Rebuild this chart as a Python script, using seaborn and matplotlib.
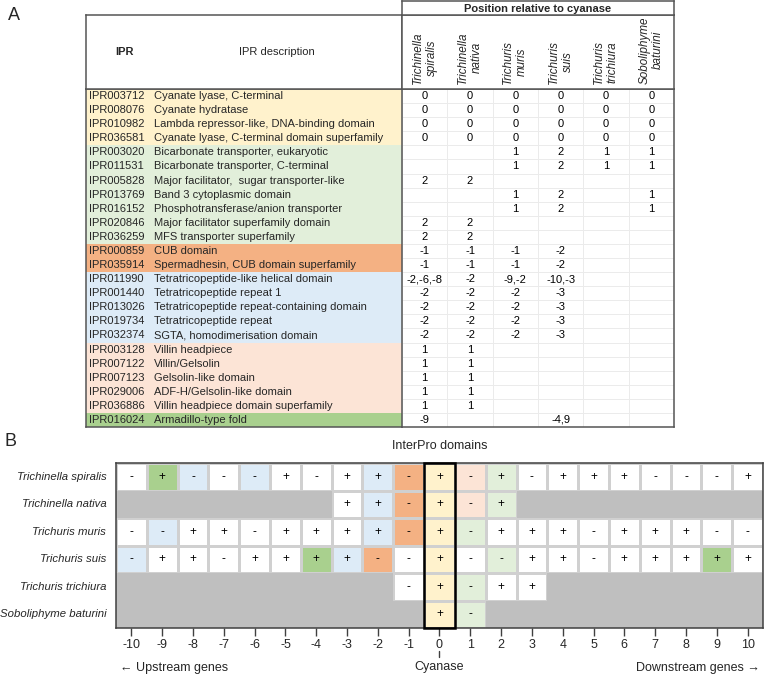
"""
Cyanase genomic neighbourhood: InterPro domain table (A) and
gene-order grid relative to cyanase (B)
"""
import numpy as np
import matplotlib
matplotlib.use("Agg")
import matplotlib.pyplot as plt
from matplotlib.colors import ListedColormap
from matplotlib.patches import Rectangle
import seaborn as sns

sns.set_style("white")
plt.rcParams["font.family"] = ["Liberation Sans", "DejaVu Sans"]

W, H = 765, 675

# ---------------- data: panel A ----------------
ipr_ids = [
    "IPR003712", "IPR008076", "IPR010982", "IPR036581",
    "IPR003020", "IPR011531", "IPR005828", "IPR013769",
    "IPR016152", "IPR020846", "IPR036259", "IPR000859",
    "IPR035914", "IPR011990", "IPR001440", "IPR013026",
    "IPR019734", "IPR032374", "IPR003128", "IPR007122",
    "IPR007123", "IPR029006", "IPR036886", "IPR016024",
]
ipr_desc = [
    "Cyanate lyase, C-terminal",
    "Cyanate hydratase",
    "Lambda repressor-like, DNA-binding domain",
    "Cyanate lyase, C-terminal domain superfamily",
    "Bicarbonate transporter, eukaryotic",
    "Bicarbonate transporter, C-terminal",
    "Major facilitator,  sugar transporter-like",
    "Band 3 cytoplasmic domain",
    "Phosphotransferase/anion transporter",
    "Major facilitator superfamily domain",
    "MFS transporter superfamily",
    "CUB domain",
    "Spermadhesin, CUB domain superfamily",
    "Tetratricopeptide-like helical domain",
    "Tetratricopeptide repeat 1",
    "Tetratricopeptide repeat-containing domain",
    "Tetratricopeptide repeat",
    "SGTA, homodimerisation domain",
    "Villin headpiece",
    "Villin/Gelsolin",
    "Gelsolin-like domain",
    "ADF-H/Gelsolin-like domain",
    "Villin headpiece domain superfamily",
    "Armadillo-type fold",
]
ipr_group = [
    "cyanate", "cyanate", "cyanate", "cyanate",
    "transport", "transport", "transport", "transport",
    "transport", "transport", "transport", "cub",
    "cub", "tpr", "tpr", "tpr",
    "tpr", "tpr", "villin", "villin",
    "villin", "villin", "villin", "armadillo",
]
table_species = [
    "Trichinella\nspiralis", "Trichinella\nnativa", "Trichuris\nmuris",
    "Trichuris\nsuis", "Trichuris\ntrichiura", "Soboliphyme\nbaturini",
]
table_positions = [
    ["0", "0", "0", "0", "0", "0"],
    ["0", "0", "0", "0", "0", "0"],
    ["0", "0", "0", "0", "0", "0"],
    ["0", "0", "0", "0", "0", "0"],
    ["", "", "1", "2", "1", "1"],
    ["", "", "1", "2", "1", "1"],
    ["2", "2", "", "", "", ""],
    ["", "", "1", "2", "", "1"],
    ["", "", "1", "2", "", "1"],
    ["2", "2", "", "", "", ""],
    ["2", "2", "", "", "", ""],
    ["-1", "-1", "-1", "-2", "", ""],
    ["-1", "-1", "-1", "-2", "", ""],
    ["-2,-6,-8", "-2", "-9,-2", "-10,-3", "", ""],
    ["-2", "-2", "-2", "-3", "", ""],
    ["-2", "-2", "-2", "-3", "", ""],
    ["-2", "-2", "-2", "-3", "", ""],
    ["-2", "-2", "-2", "-3", "", ""],
    ["1", "1", "", "", "", ""],
    ["1", "1", "", "", "", ""],
    ["1", "1", "", "", "", ""],
    ["1", "1", "", "", "", ""],
    ["1", "1", "", "", "", ""],
    ["-9", "", "", "-4,9", "", ""],
]

# ---------------- data: panel B ----------------
positions = [-10, -9, -8, -7, -6, -5, -4, -3, -2, -1, 0,
             1, 2, 3, 4, 5, 6, 7, 8, 9, 10]
grid_species = [
    "Trichinella spiralis", "Trichinella nativa", "Trichuris muris",
    "Trichuris suis", "Trichuris trichiura", "Soboliphyme baturini",
]
# strand of each neighbouring gene ('.' = no gene / outside contig)
strand_spiralis = "-+---+-++-+-+-+++---+"
strand_nativa = ".......++-+-+........"
strand_muris = "--++-++++-+-+++-+++--"
strand_suis = "-++-++++--+--++-+++++"
strand_trichiura = ".........-+-++......."
strand_baturini = "..........+-........."
# domain group of each gene: n none, y cyanate, g transporter, o CUB,
# b TPR, p villin, a armadillo, '.' missing
domain_spiralis = "nabnbnnnboypgnnnnnnnn"
domain_nativa = ".......nboypg........"
domain_muris = "nbnnnnnnboygnnnnnnnnn"
domain_suis = "bnnnnnabonyngnnnnnnan"
domain_trichiura = ".........nygnn......."
domain_baturini = "..........yg........."

# ---------------- styles ----------------
group_order = ["none", "cyanate", "transport", "cub", "tpr", "villin", "armadillo"]
group_colors = {
    "none": "#FFFFFF",
    "cyanate": "#FFF2CC",
    "transport": "#E2EFDA",
    "cub": "#F4B183",
    "tpr": "#DDEBF7",
    "villin": "#FCE4D6",
    "armadillo": "#A9D08E",
}
code_to_group = {"n": "none", "y": "cyanate", "g": "transport", "o": "cub",
                 "b": "tpr", "p": "villin", "a": "armadillo"}
MISSING = "#BFBFBF"
BORDER = "#555555"
group_cmap = ListedColormap([group_colors[g] for g in group_order])


def px_axes(fig, x0, y0, x1, y1):
    """Add axes from pixel box (origin top-left)"""
    return fig.add_axes([x0 / W, 1 - y1 / H, (x1 - x0) / W, (y1 - y0) / H])


def frame(ax, sides=("left", "right", "top", "bottom"), color=BORDER, lw=1.1):
    for name, sp in ax.spines.items():
        sp.set_visible(name in sides)
        sp.set_color(color)
        sp.set_linewidth(lw)


fig = plt.figure(figsize=(W / 100, H / 100), dpi=100)

# ================= Panel A =================
x_left, x_mid, x_right = 86, 402, 674
y_top, y_head, y_bot = 15, 89, 427

# left: coloured description rows
axL = px_axes(fig, x_left, y_head, x_mid, y_bot)
grp_idx = np.array([[group_order.index(g)] for g in ipr_group])
sns.heatmap(grp_idx, cmap=group_cmap, vmin=-0.5, vmax=len(group_order) - 0.5,
            cbar=False, xticklabels=False, yticklabels=False, ax=axL)
trans = axL.get_yaxis_transform()
for i, (pid, desc) in enumerate(zip(ipr_ids, ipr_desc)):
    axL.text(0.01, i + 0.5, pid, transform=trans, va="center", ha="left", fontsize=8)
    axL.text(0.215, i + 0.5, desc, transform=trans, va="center", ha="left", fontsize=8)
frame(axL, ("left", "bottom", "top"))

# right: position values
axR = px_axes(fig, x_mid, y_head, x_right, y_bot)
pos_arr = np.array(table_positions)
sns.heatmap(np.zeros(pos_arr.shape), cmap=ListedColormap(["white"]), annot=pos_arr,
            fmt="", cbar=False, linewidths=0.7, linecolor="#EBEBEB",
            annot_kws={"fontsize": 8, "color": "black"},
            xticklabels=False, yticklabels=False, ax=axR)
frame(axR)

# header rows
axH1 = px_axes(fig, x_left, y_top, x_mid, y_head)
axH1.set_xticks([])
axH1.set_yticks([])
frame(axH1, ("left", "top", "bottom", "right"))
axH1.text((125 - x_left) / (x_mid - x_left), 0.5, "IPR", fontweight="bold",
          fontsize=8, ha="center", va="center", transform=axH1.transAxes)
axH1.text((277 - x_left) / (x_mid - x_left), 0.5, "IPR description",
          fontsize=8, ha="center", va="center", transform=axH1.transAxes)

axH2 = px_axes(fig, x_mid, y_top, x_right, y_head)
axH2.set_xlim(0, len(table_species))
axH2.set_ylim(0, 1)
axH2.set_xticks([])
axH2.set_yticks([])
frame(axH2)
for j, sp in enumerate(table_species):
    axH2.text(j + 0.5, 0.07, sp, rotation=90, style="italic", fontsize=8.4,
              ha="center", va="bottom", multialignment="center", linespacing=1.2)

axH3 = px_axes(fig, x_mid, 1, x_right, y_top)
axH3.set_xticks([])
axH3.set_yticks([])
frame(axH3)
axH3.text(0.5, 0.45, "Position relative to cyanase", fontweight="bold", fontsize=8,
          ha="center", va="center", transform=axH3.transAxes)

fig.text(8 / W, 1 - 16 / H, "A", fontsize=13, va="center", ha="left")

# ================= Panel B =================
strands = [strand_spiralis, strand_nativa, strand_muris,
           strand_suis, strand_trichiura, strand_baturini]
domains = [domain_spiralis, domain_nativa, domain_muris,
           domain_suis, domain_trichiura, domain_baturini]

missing = np.array([[c == "." for c in row] for row in domains])
codes = np.array([[group_order.index(code_to_group[c]) if c != "." else 0 for c in row]
                  for row in domains], dtype=float)
signs = np.array([[c if c != "." else "" for c in row] for row in strands])

axB = px_axes(fig, 116, 463, 763, 628)
sns.heatmap(codes, mask=missing, cmap=group_cmap, vmin=-0.5,
            vmax=len(group_order) - 0.5, annot=signs, fmt="", cbar=False,
            linewidths=1.0, linecolor="#D0D0D0",
            annot_kws={"fontsize": 8.5, "color": "black"}, ax=axB)
sns.heatmap(np.ones(codes.shape), mask=~missing, cmap=ListedColormap([MISSING]),
            cbar=False, linewidths=0, ax=axB)

axB.set_xticks(np.arange(len(positions)) + 0.5)
axB.set_xticklabels([str(p) for p in positions], rotation=0, fontsize=9)
axB.set_yticks(np.arange(len(grid_species)) + 0.5)
axB.set_yticklabels(grid_species, rotation=0, fontsize=8.2, style="italic")
axB.tick_params(axis="x", bottom=True, length=6, width=1, color="#404040", pad=2)
axB.tick_params(axis="y", left=False, pad=3.5)
frame(axB, color="#404040", lw=1.1)

i0 = positions.index(0)
axB.add_patch(Rectangle((i0, 0), 1, len(grid_species), fill=False,
                        edgecolor="black", linewidth=1.8, zorder=5, clip_on=False))

xtr = axB.get_xaxis_transform()
axB.plot([i0 + 0.5, i0 + 0.5], [-0.139, -0.176], transform=xtr, color="#404040",
         lw=1, clip_on=False)
axB.text(i0 + 0.5, -0.236, "Cyanase", transform=xtr, ha="center", va="center", fontsize=9)
axB.text(0.006, -0.242, "\u2190 Upstream genes", transform=axB.transAxes,
         ha="left", va="center", fontsize=9)
axB.text(0.995, -0.242, "Downstream genes \u2192", transform=axB.transAxes,
         ha="right", va="center", fontsize=9)
axB.text(0.5, 1.103, "InterPro domains", transform=axB.transAxes,
         ha="center", va="center", fontsize=9)

fig.text(5 / W, 1 - 441 / H, "B", fontsize=13, va="center", ha="left")

plt.savefig("out.png", dpi=100)
plt.close()
